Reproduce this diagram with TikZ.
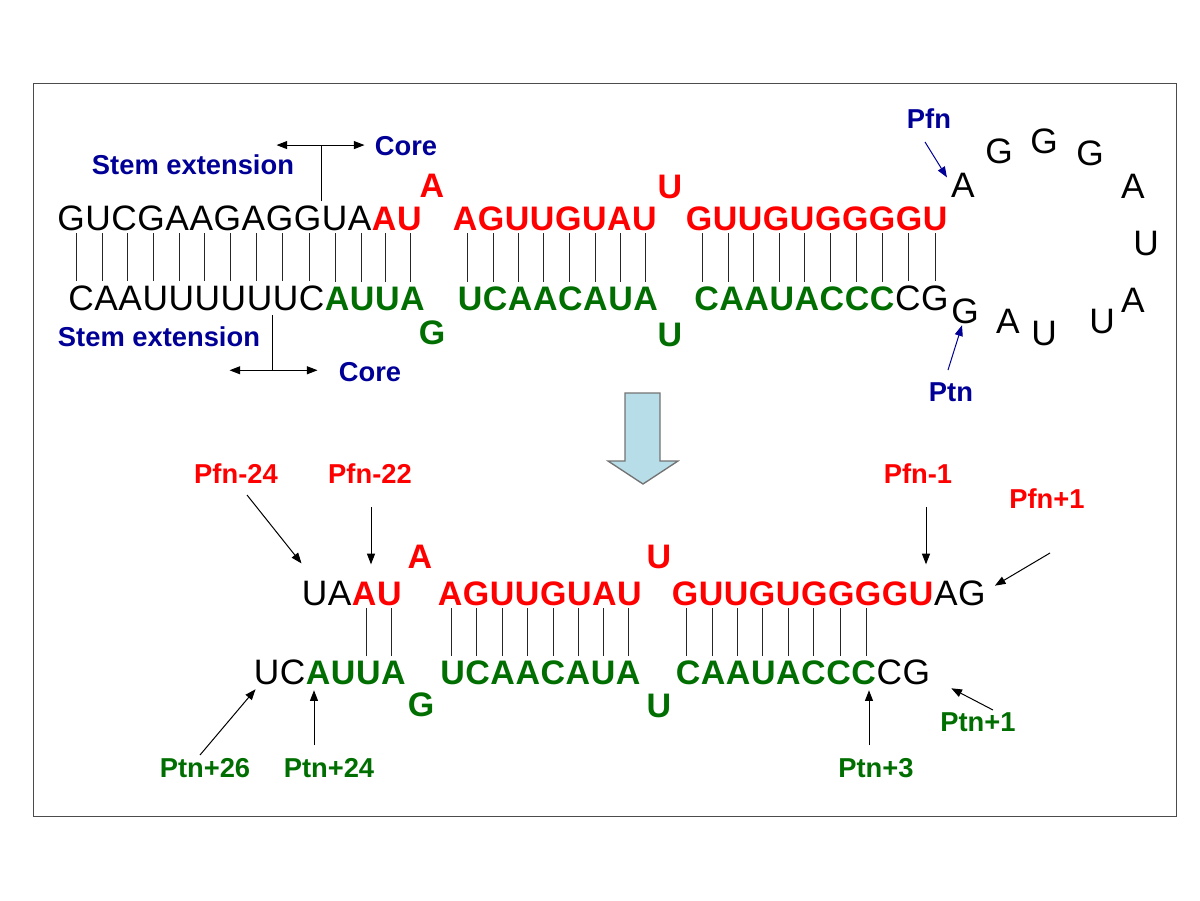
\documentclass[tikz,border=0pt]{standalone}
\usepackage{fontspec}
\setmainfont{Liberation Sans}
\usetikzlibrary{arrows.meta,calc}

\definecolor{pfnred}{RGB}{255,0,0}
\definecolor{ptngreen}{RGB}{0,110,0}
\definecolor{tagblue}{RGB}{0,0,150}
\definecolor{shiftfill}{RGB}{183,221,232}

\begin{document}
\begin{tikzpicture}[x=0.75pt,y=-0.75pt,>={Triangle[length=8pt,width=6pt]}]
	\tikzstyle{nt}=[inner sep=0pt,minimum size=0pt,anchor=base west,text depth=0pt]
	\tikzstyle{ext}=[nt,font=\fontsize{26.5}{30}\selectfont]
	\tikzstyle{pfn}=[nt,text=pfnred,font=\fontsize{25.5}{30}\selectfont\bfseries]
	\tikzstyle{ptn}=[nt,text=ptngreen,font=\fontsize{25.5}{30}\selectfont\bfseries]
	\tikzstyle{pair}=[draw=black!85,line width=0.6pt,shorten <=2.25pt,shorten >=3pt]
	\tikzstyle{annot}=[inner sep=0pt,font=\fontsize{20.5}{24}\selectfont\bfseries]
	\tikzstyle{ptr}=[->,line width=0.75pt]

	\useasboundingbox (0,0) rectangle (1200,900);
	\draw[black!70,line width=0.75pt] (33,83) rectangle (1176,816);

	% Hairpin, upper strand
	\node[nt] (U1-0) at (56.5,230) {};
	\foreach \b/\s [count=\i, remember=\i as \j (initially 0)] in
		{G/ext,U/ext,C/ext,G/ext,A/ext,A/ext,G/ext,A/ext,G/ext,G/ext,U/ext,A/ext,A/pfn,U/pfn}
		\node[\s] (U1-\i) at (U1-\j.base east) {\b};
	\node[nt] (U2-0) at (452,230) {};
	\foreach \b [count=\i, remember=\i as \j (initially 0)] in {A,G,U,U,G,U,A,U}
		\node[pfn] (U2-\i) at (U2-\j.base east) {\b};
	\node[nt] (U3-0) at (685,230) {};
	\foreach \b [count=\i, remember=\i as \j (initially 0)] in {G,U,U,G,U,G,G,G,G,U}
		\node[pfn] (U3-\i) at (U3-\j.base east) {\b};

	% Hairpin, lower strand
	\node[nt] (L1-0) at (67.5,310) {};
	\foreach \b/\s [count=\i, remember=\i as \j (initially 0)] in
		{C/ext,A/ext,A/ext,U/ext,U/ext,U/ext,U/ext,U/ext,U/ext,C/ext,A/ptn,U/ptn,U/ptn,A/ptn}
		\node[\s] (L1-\i) at (L1-\j.base east) {\b};
	\node[nt] (L2-0) at (457,310) {};
	\foreach \b [count=\i, remember=\i as \j (initially 0)] in {U,C,A,A,C,A,U,A}
		\node[ptn] (L2-\i) at (L2-\j.base east) {\b};
	\node[nt] (L3-0) at (693.5,310) {};
	\foreach \b/\s [count=\i, remember=\i as \j (initially 0)] in
		{C/ptn,A/ptn,A/ptn,U/ptn,A/ptn,C/ptn,C/ptn,C/ptn,C/ext,G/ext}
		\node[\s] (L3-\i) at (L3-\j.base east) {\b};

	% Bulges
	\node[pfn,anchor=base] (bA) at (432,197) {A};
	\node[pfn,anchor=base] (bU) at (670,198) {U};
	\node[ptn,anchor=base] (bG) at (432,344) {G};
	\node[ptn,anchor=base] (bU2) at (670,346) {U};

	% Terminal loop
	\foreach \b/\x/\y [count=\i] in {A/963/197,G/999/163,G/1044/153,G/1090/165,A/1133/198,U/1146/255,A/1133/312,U/1102/333,U/1044/345,A/1008/333,G/965/323}
		\node[ext,anchor=base] (H-\i) at (\x,\y) {\b};

	% Base pairs
	\foreach \h/\n in {1/14,2/8,3/10}
		\foreach \i in {1,...,\n}
			\draw[pair] let \p1=(U\h-\i.south), \p2=(L\h-\i.north) in ({(\x1+\x2)/2},\y1) -- ({(\x1+\x2)/2},\y2);

	% Stem extension / core marks
	\node[annot,text=tagblue] (stem-u) at (193,165) {Stem extension};
	\node[annot,text=tagblue] (core-u) at (406,146) {Core};
	\draw[line width=0.75pt,shorten <=3pt] (U1-10.north east) -- ++(0,-60) coordinate (cut-u);
	\draw[<->,line width=0.75pt] ([xshift=-33.75pt]cut-u) -- ([xshift=32.25pt]cut-u);
	\node[annot,text=tagblue] (stem-l) at (159,337) {Stem extension};
	\node[annot,text=tagblue] (core-l) at (370,372) {Core};
	\draw[line width=0.75pt,shorten <=3.75pt] (L1-8.south east) -- ++(0,60) coordinate (cut-l);
	\draw[<->,line width=0.75pt] ([xshift=-32.25pt]cut-l) -- ([xshift=33.75pt]cut-l);

	% Pfn / Ptn
	\node[annot,text=tagblue] (pfn) at (929,119) {Pfn};
	\node[annot,text=tagblue] (ptn) at (951,392) {Ptn};
	\draw[ptr,tagblue] ($(pfn.center)+(-4,23)$) -- ($(H-1.north west)+(-4,5)$);
	\draw[ptr,tagblue] ($(ptn.center)+(-3,-22)$) -- ($(H-11.south)+(-3,2)$);

	% Shift arrow
	\filldraw[fill=shiftfill,draw=black!55,line width=1pt] (625,393) -- (660,393) -- (660,461) -- (678,461) -- (643,484) -- (608,461) -- (625,461) -- cycle;

	% Processed duplex, upper strand
	\node[nt] (P1-0) at (301,605) {};
	\foreach \b/\s [count=\i, remember=\i as \j (initially 0)] in {U/ext,A/ext,A/pfn,U/pfn}
		\node[\s] (P1-\i) at (P1-\j.base east) {\b};
	\node[nt] (P2-0) at (437,605) {};
	\foreach \b [count=\i, remember=\i as \j (initially 0)] in {A,G,U,U,G,U,A,U}
		\node[pfn] (P2-\i) at (P2-\j.base east) {\b};
	\node[nt] (P3-0) at (671,605) {};
	\foreach \b/\s [count=\i, remember=\i as \j (initially 0)] in
		{G/pfn,U/pfn,U/pfn,G/pfn,U/pfn,G/pfn,G/pfn,G/pfn,G/pfn,U/pfn,A/ext,G/ext}
		\node[\s] (P3-\i) at (P3-\j.base east) {\b};

	% Processed duplex, lower strand
	\node[nt] (Q1-0) at (253,684) {};
	\foreach \b/\s [count=\i, remember=\i as \j (initially 0)] in {U/ext,C/ext,A/ptn,U/ptn,U/ptn,A/ptn}
		\node[\s] (Q1-\i) at (Q1-\j.base east) {\b};
	\node[nt] (Q2-0) at (439.5,684) {};
	\foreach \b [count=\i, remember=\i as \j (initially 0)] in {U,C,A,A,C,A,U,A}
		\node[ptn] (Q2-\i) at (Q2-\j.base east) {\b};
	\node[nt] (Q3-0) at (675,684) {};
	\foreach \b/\s [count=\i, remember=\i as \j (initially 0)] in
		{C/ptn,A/ptn,A/ptn,U/ptn,A/ptn,C/ptn,C/ptn,C/ptn,C/ext,G/ext}
		\node[\s] (Q3-\i) at (Q3-\j.base east) {\b};

	% Bulges
	\node[pfn,anchor=base] (cA) at (420,568) {A};
	\node[pfn,anchor=base] (cU) at (659,568) {U};
	\node[ptn,anchor=base] (cG) at (421,716) {G};
	\node[ptn,anchor=base] (cU2) at (659,717) {U};

	% Base pairs
	\foreach \a/\c in {1-3/1-5,1-4/1-6,2-1/2-1,2-2/2-2,2-3/2-3,2-4/2-4,2-5/2-5,2-6/2-6,2-7/2-7,2-8/2-8,3-1/3-1,3-2/3-2,3-3/3-3,3-4/3-4,3-5/3-5,3-6/3-6,3-7/3-7,3-8/3-8}
		\draw[pair] let \p1=(P\a.south), \p2=(Q\c.north) in ({(\x1+\x2)/2},\y1) -- ({(\x1+\x2)/2},\y2);

	% Position labels
	\node[annot,text=pfnred] (pfn24) at (236,474) {Pfn-24};
	\node[annot,text=pfnred] (pfn22) at (370,474) {Pfn-22};
	\node[annot,text=pfnred] (pfn1) at (918,474) {Pfn-1};
	\node[annot,text=pfnred] (pfnp1) at (1047,499) {Pfn+1};
	\node[annot,text=ptngreen] (ptn26) at (205,768) {Ptn+26};
	\node[annot,text=ptngreen] (ptn24) at (329,768) {Ptn+24};
	\node[annot,text=ptngreen] (ptn3) at (876,768) {Ptn+3};
	\node[annot,text=ptngreen] (ptnp1) at (978,722) {Ptn+1};

	\draw[ptr] ($(pfn24.center)+(11,21)$) -- ($(P1-1.north west)+(0,-17)$);
	\draw[ptr] ($(pfn22.center)+(1,33)$) -- ($(P1-3.north -| pfn22.center)+(1,-17)$);
	\draw[ptr] ($(pfn1.center)+(8,33)$) -- ($(P3-10.north -| pfn1.center)+(8,-17)$);
	\draw[ptr] ($(pfnp1.center)+(3,54)$) -- ($(P3-12.east)+(9,-7)$);
	\draw[ptr] ($(ptn26.center)+(-5,-13)$) -- ($(Q1-1.south west)+(2,5)$);
	\draw[ptr] ($(ptn24.center)+(-15,-23)$) -- ($(Q1-3.south -| ptn24.center)+(-15,6)$);
	\draw[ptr] ($(ptn3.center)+(-7,-23)$) -- ($(Q3-8.south -| ptn3.center)+(-7,6)$);
	\draw[ptr] ($(ptnp1.center)+(15,-12)$) -- ($(Q3-10.south east)+(21,4)$);
\end{tikzpicture}
\end{document}
